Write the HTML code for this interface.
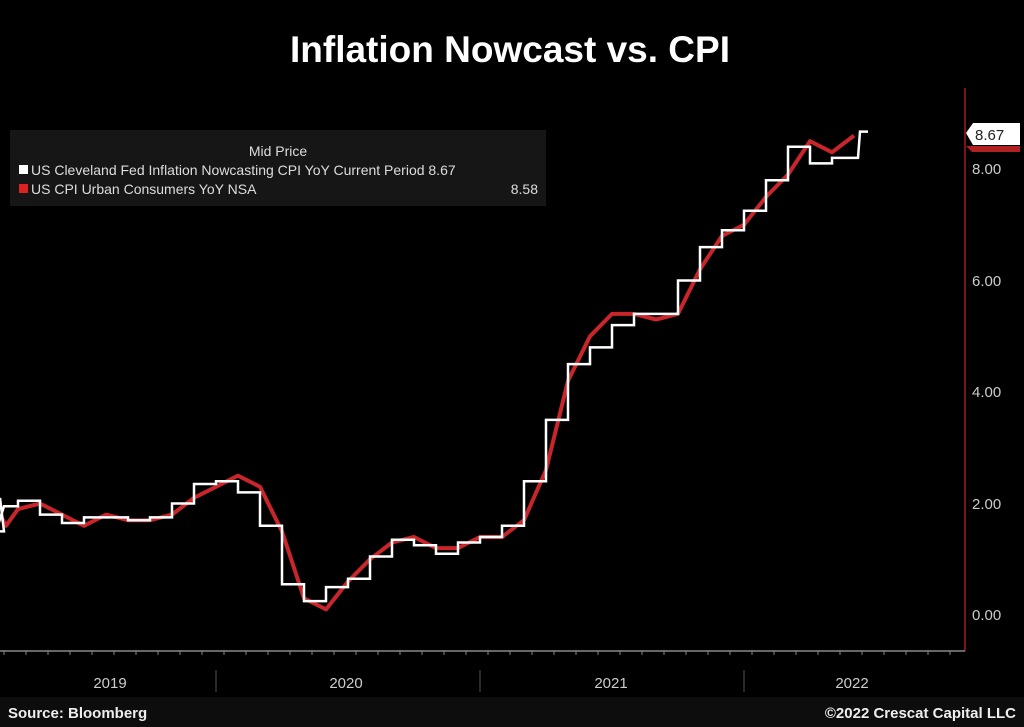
<!DOCTYPE html>
<html><head><meta charset="utf-8"><style>
body{margin:0;background:#000;width:1024px;height:727px;overflow:hidden;font-family:"Liberation Sans",sans-serif}
</style></head><body>
<svg id="s" width="1024" height="727" xmlns="http://www.w3.org/2000/svg" style="position:absolute;left:0;top:0">
<rect width="1024" height="727" fill="#000"/>
<text x="510" y="62" fill="#fff" font-size="37" font-weight="bold" text-anchor="middle" font-family="Liberation Sans, sans-serif">Inflation Nowcast vs. CPI</text>
<rect x="10" y="130" width="536" height="76" fill="#161616"/>
<g font-size="14" fill="#ddd" font-family="Liberation Sans, sans-serif">
<text x="278" y="156" text-anchor="middle">Mid Price</text>
<rect x="19" y="165" width="9" height="9" fill="#fff"/>
<text x="31" y="175">US Cleveland Fed Inflation Nowcasting CPI YoY Current Period 8.67</text>
<rect x="19" y="184" width="9" height="9" fill="#d22"/>
<text x="31" y="194">US CPI Urban Consumers YoY NSA</text>
<text x="538" y="194" text-anchor="end">8.58</text>
</g>
<line x1="965" y1="88" x2="965" y2="651" stroke="#7a1515" stroke-width="2"/>
<line x1="0" y1="651" x2="965" y2="651" stroke="#888" stroke-width="1.5"/>
<g id="ticks" stroke="#888"></g>
<g fill="#ccc" font-size="15" font-family="Liberation Sans, sans-serif">
<text x="972" y="174">8.00</text><text x="972" y="286">6.00</text><text x="972" y="397">4.00</text><text x="972" y="509">2.00</text><text x="972" y="620">0.00</text>
<text x="110" y="688" text-anchor="middle">2019</text><text x="346" y="688" text-anchor="middle">2020</text><text x="611" y="688" text-anchor="middle">2021</text><text x="852" y="688" text-anchor="middle">2022</text>
</g>
<g stroke="#555"><line x1="216" y1="670" x2="216" y2="692"/><line x1="480" y1="670" x2="480" y2="692"/><line x1="744" y1="670" x2="744" y2="692"/></g>
<rect x="0" y="697" width="1024" height="30" fill="#0d0d0d"/>
<text x="8" y="718" fill="#eee" font-size="15" font-weight="bold" font-family="Liberation Sans, sans-serif">Source: Bloomberg</text>
<text x="1016" y="718" fill="#eee" font-size="15" font-weight="bold" text-anchor="end" font-family="Liberation Sans, sans-serif">©2022 Crescat Capital LLC</text>
<path id="red" fill="none" stroke="#c8262b" stroke-width="4" stroke-linejoin="round"/>
<path id="white" fill="none" stroke="#fff" stroke-width="2.5"/>
<path d="M966,146 L1020,146 L1020,152 L972,152 Z" fill="#b01f22"/>
<path d="M966,133 L973,123 L1020,123 L1020,145 L973,145 Z" fill="#fff"/>
<text x="975" y="140" fill="#222" font-size="15" font-family="Liberation Sans, sans-serif">8.67</text>
</svg>
<script>
function Y(v){return 615-55.75*v}
var cpi=[1.6,1.5,1.9,2.0,1.8,1.6,1.8,1.7,1.7,1.8,2.1,2.3,2.5,2.3,1.5,0.3,0.1,0.6,1.0,1.3,1.4,1.2,1.2,1.4,1.4,1.7,2.6,4.2,5.0,5.4,5.4,5.3,5.4,6.2,6.8,7.0,7.5,7.9,8.5,8.3,8.6];
var d="M0,"+Y(1.8).toFixed(1)+"L6,"+Y(1.6).toFixed(1);
for(var i=2;i<cpi.length;i++){var x=-48+22*(i+1);d+="L"+x+","+Y(cpi[i]).toFixed(1);}
document.getElementById("red").setAttribute("d",d);
var w=[1.5,1.5,1.95,2.05,1.8,1.65,1.75,1.75,1.7,1.75,2.0,2.35,2.4,2.2,1.6,0.55,0.25,0.5,0.65,1.05,1.35,1.25,1.1,1.3,1.4,1.6,2.4,3.5,4.5,4.8,5.2,5.4,5.4,6.0,6.6,6.9,7.25,7.8,8.4,8.1,8.2];
var p="M0,"+Y(2.1)+"L4,"+Y(1.5);
for(var i=1;i<w.length;i++){var x0=-48+22*i,x1=x0+22;p+="L"+Math.max(x0,4)+","+Y(w[i]).toFixed(1)+"L"+x1+","+Y(w[i]).toFixed(1);}
p+="L858,"+Y(8.2)+"L860,"+Y(8.67)+"L868,"+Y(8.67);
document.getElementById("white").setAttribute("d",p);
var t="";for(var x=4;x<965;x+=22)t+='<line x1="'+x+'" y1="651" x2="'+x+'" y2="655"/>';
document.getElementById("ticks").innerHTML=t;
</script>
</body></html>
